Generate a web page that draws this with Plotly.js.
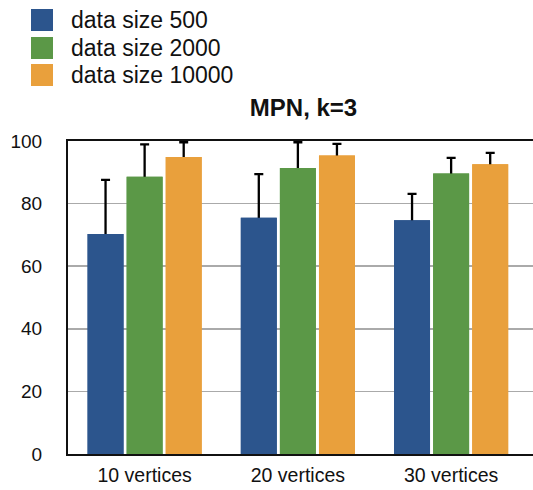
<!DOCTYPE html>
<html>
<head>
<meta charset="utf-8">
<script src="https://cdn.plot.ly/plotly-3.0.1.min.js"></script>
<style>html,body{margin:0;padding:0;overflow:hidden;background:#fff}</style>
</head>
<body>
<div id="chart"></div>
<script>
const categories = ["10 vertices", "20 vertices", "30 vertices"];
const seriesNames = ["data size 500", "data size 2000", "data size 10000"];
const size500 = [70.3, 75.5, 74.7];
const size2000 = [88.6, 91.4, 89.6];
const size10000 = [94.9, 95.4, 92.6];
const err500 = [17.3, 13.9, 8.4];
const err2000 = [10.3, 8.2, 5.0];
const err10000 = [4.7, 3.7, 3.6];
const yTicks = [0, 20, 40, 60, 80, 100];

const colors = ["#2c558d", "#5b9847", "#e9a03c"];
const values = [size500, size2000, size10000];
const errs = [err500, err2000, err10000];

const W = 545, H = 490, ML = 68, MR = 0, MT = 141, MB = 36;
const PW = W - ML - MR, PH = H - MT - MB;
const px2x = p => (p - ML) / PW;
const py2y = p => (H - MB - p) / PH;
const FONT = "Liberation Sans, Arial, Helvetica, sans-serif";

// bars with symmetric error bars, then the same bars again on top to hide the lower half
const traces = [];
seriesNames.forEach((n, i) => traces.push({
  type: "bar", name: n, x: categories, y: values[i], offsetgroup: "g" + i,
  marker: {color: colors[i], line: {width: 0}},
  error_y: {type: "data", array: errs[i], color: "#000", thickness: 2.3, width: 4.5},
  showlegend: false
}));
seriesNames.forEach((n, i) => traces.push({
  type: "bar", name: n, x: categories, y: values[i], offsetgroup: "g" + i,
  marker: {color: colors[i], line: {width: 0}},
  showlegend: false
}));

const shapes = [], annotations = [];
const legTop = [9, 37, 64];
seriesNames.forEach((n, i) => {
  shapes.push({type: "rect", xref: "paper", yref: "paper",
    x0: px2x(31), x1: px2x(53), y0: py2y(legTop[i]), y1: py2y(legTop[i] + 22),
    fillcolor: colors[i], line: {width: 0}});
  annotations.push({xref: "paper", yref: "paper", x: px2x(69), y: py2y(legTop[i] + 11),
    xanchor: "left", yanchor: "middle", showarrow: false, text: n,
    font: {family: FONT, size: 23, color: "#111"}});
});

const layout = {
  width: W, height: H,
  margin: {l: ML, r: MR, t: MT, b: MB, pad: 0},
  paper_bgcolor: "#fff", plot_bgcolor: "#fff",
  title: {text: "<b>MPN, k=3</b>", xref: "paper", x: px2x(303.5), xanchor: "center",
          yref: "container", y: 1 - 108 / H, yanchor: "middle",
          font: {family: FONT, size: 24, color: "#111"}},
  barmode: "group", bargap: 0.235, bargroupgap: 0.08,
  xaxis: {type: "category", range: [-0.5, -0.5 + PW / 153.25], showline: true, linecolor: "#111",
          linewidth: 2, mirror: true, ticks: "", showgrid: false, ticklabelstandoff: 3,
          tickfont: {family: FONT, size: 19.5, color: "#111"}},
  yaxis: {range: [0, 100], tickvals: yTicks, ticktext: yTicks.map(String), showline: true,
          linecolor: "#111", linewidth: 2, mirror: true, ticks: "", showgrid: true,
          gridcolor: "#aaaaaa", gridwidth: 1.5, zeroline: false, ticklabelstandoff: 20,
          tickfont: {family: FONT, size: 19, color: "#111"}},
  shapes: shapes, annotations: annotations
};

Plotly.newPlot("chart", traces, layout, {displayModeBar: false, staticPlot: true});
</script>
</body>
</html>
